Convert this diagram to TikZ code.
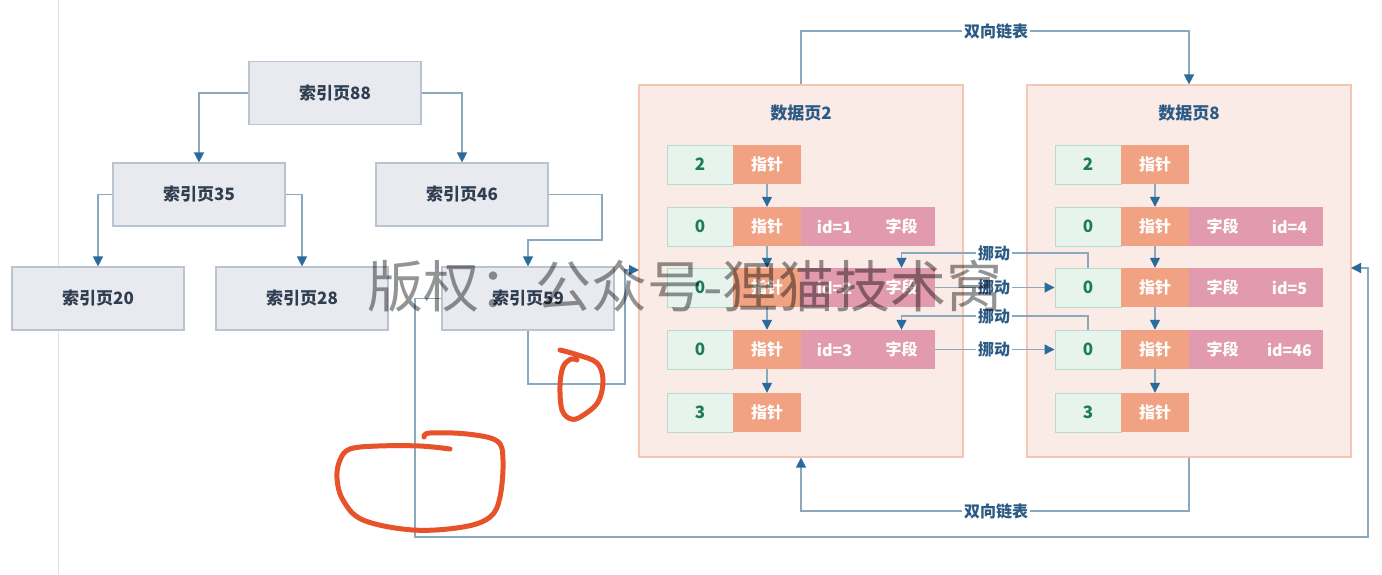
\documentclass[tikz,border=0pt]{standalone}
\usepackage{fontspec}
\setmainfont{Noto Sans CJK SC}
\usetikzlibrary{arrows.meta,calc}
\definecolor{idxfill}{HTML}{E8EAEF}
\definecolor{idxdraw}{HTML}{BAC4D1}
\definecolor{idxtext}{HTML}{2F3E50}
\definecolor{pagefill}{HTML}{FBEBE6}
\definecolor{pagedraw}{HTML}{F4C6B3}
\definecolor{titleblue}{HTML}{2B5A85}
\definecolor{gfill}{HTML}{E7F4EE}
\definecolor{gdraw}{HTML}{B3DCCB}
\definecolor{gtext}{HTML}{1D7A5A}
\definecolor{ofill}{HTML}{F1A282}
\definecolor{pfill}{HTML}{E29AAF}
\definecolor{linec}{HTML}{8AA9BF}
\definecolor{arrowc}{HTML}{2A6B9C}
\definecolor{redpen}{HTML}{E8522A}
\definecolor{marginc}{HTML}{E2E2E2}
\begin{document}
\begin{tikzpicture}[x=1pt,y=-1pt,
 idx/.style={draw=idxdraw, fill=idxfill, line width=1.2pt, minimum width=172pt, minimum height=63pt, inner sep=0pt, text=idxtext, font=\bfseries\fontsize{17}{17}\selectfont},
 page/.style={draw=pagedraw, fill=pagefill, line width=1.2pt, minimum width=324pt, minimum height=372pt, inner sep=0pt},
 ptitle/.style={text=titleblue, font=\bfseries\fontsize{17}{17}\selectfont, inner sep=0pt},
 gcell/.style={draw=gdraw, fill=gfill, line width=1pt, minimum width=66pt, minimum height=39pt, inner sep=0pt, text=gtext, font=\bfseries\fontsize{17}{17}\selectfont},
 ocell/.style={fill=ofill, minimum width=68pt, minimum height=39pt, inner sep=0pt, text=white, font=\bfseries\fontsize{16}{16}\selectfont},
 pcell/.style={fill=pfill, minimum width=67pt, minimum height=39pt, inner sep=0pt, text=white, font=\bfseries\fontsize{16}{16}\selectfont},
 lab/.style={text=titleblue, font=\bfseries\fontsize{16}{16}\selectfont, inner sep=1.5pt},
 link/.style={draw=linec, line width=1.4pt},
 arr/.style={link, -{Triangle[length=10pt,width=10pt,color=arrowc]}},
 pen/.style={draw=redpen, line width=5pt, line cap=round, line join=round},
]
\useasboundingbox (0,0) rectangle (1382,574);
\fill[white] (0,0) rectangle (1382,574);
\draw[marginc, line width=1pt] (58,0) -- (58,574);

% index pages
\node[idx] (i88) at (335,93) {索引页88};
\node[idx] (i35) at (199,194.5) {索引页35};
\node[idx] (i46) at (462,194.5) {索引页46};
\node[idx] (i20) at (98,298.5) {索引页20};
\node[idx] (i28) at (302,298.5) {索引页28};
\node[idx] (i59) at (528,298.5) {索引页59};

% data pages
\node[page] (p2) at (801,271) {};
\node[page] (p8) at (1189,271) {};
\node[ptitle] (p2t) at (801,113) {数据页2};
\node[ptitle] (p8t) at (1189,113) {数据页8};

% rows of page 2
\node[gcell] (a1n) at (700,164.5) {2};
\node[ocell] (a1p) at (767,164.5) {指针};
\node[gcell] (a2n) at (700,226.5) {0};
\node[ocell] (a2p) at (767,226.5) {指针};
\node[pcell] (a2i) at (834.5,226.5) {id=1};
\node[pcell] (a2f) at (901.5,226.5) {字段};
\node[gcell] (a3n) at (700,287.5) {0};
\node[ocell] (a3p) at (767,287.5) {指针};
\node[pcell] (a3i) at (834.5,287.5) {id=2};
\node[pcell] (a3f) at (901.5,287.5) {字段};
\node[gcell] (a4n) at (700,349.5) {0};
\node[ocell] (a4p) at (767,349.5) {指针};
\node[pcell] (a4i) at (834.5,349.5) {id=3};
\node[pcell] (a4f) at (901.5,349.5) {字段};
\node[gcell] (a5n) at (700,412.5) {3};
\node[ocell] (a5p) at (767,412.5) {指针};

% rows of page 8
\node[gcell] (b1n) at (1088,164.5) {2};
\node[ocell] (b1p) at (1155,164.5) {指针};
\node[gcell] (b2n) at (1088,226.5) {0};
\node[ocell] (b2p) at (1155,226.5) {指针};
\node[pcell] (b2f) at (1222.5,226.5) {字段};
\node[pcell] (b2i) at (1289.5,226.5) {id=4};
\node[gcell] (b3n) at (1088,287.5) {0};
\node[ocell] (b3p) at (1155,287.5) {指针};
\node[pcell] (b3f) at (1222.5,287.5) {字段};
\node[pcell] (b3i) at (1289.5,287.5) {id=5};
\node[gcell] (b4n) at (1088,349.5) {0};
\node[ocell] (b4p) at (1155,349.5) {指针};
\node[pcell] (b4f) at (1222.5,349.5) {字段};
\node[pcell] (b4i) at (1289.5,349.5) {id=46};
\node[gcell] (b5n) at (1088,412.5) {3};
\node[ocell] (b5p) at (1155,412.5) {指针};

% row pointers
\draw[arr] (a1p) -- (a2p);
\draw[arr] (a2p) -- (a3p);
\draw[arr] (a3p) -- (a4p);
\draw[arr] (a4p) -- (a5p);
\draw[arr] (b1p) -- (b2p);
\draw[arr] (b2p) -- (b3p);
\draw[arr] (b3p) -- (b4p);
\draw[arr] (b4p) -- (b5p);

% tree connectors
\draw[arr] (i88.west) -| (i35.north);
\draw[arr] (i88.east) -| (i46.north);
\draw[arr] (i35.west) -| (i20.north);
\draw[arr] (i35.east) -| (i28.north);
\coordinate (c1) at (602,240);
\draw[arr] (i46.east) -| (c1) -| (i59.north);
\coordinate (c2) at (625,384);
\coordinate (p2in) at (639,270);
\draw[arr] (i59.south) |- (c2) |- (p2in);
\coordinate (c3) at (415,537);
\coordinate (c4) at (1368,268);
\coordinate (p8in) at (1351,268);
\draw[arr] (i59.west) -| (c3) -| (c4) -- (p8in);

% doubly linked list
\node[lab] (dl1) at (996,31) {双向链表};
\node[lab] (dl2) at (996,511) {双向链表};
\draw[link] (p2.north) |- (dl1);
\draw[arr] (dl1) -| (p8.north);
\draw[link] (p8.south) |- (dl2);
\draw[arr] (dl2) -| (p2.south);

% moves
\node[lab, fill=white] (mv1) at (994,253) {挪动};
\node[lab, fill=white] (mv2) at (994,287.5) {挪动};
\node[lab, fill=white] (mv3) at (994,316) {挪动};
\node[lab, fill=white] (mv4) at (994,349.5) {挪动};
\draw[link] (b3n.north) |- (mv1);
\draw[arr] (mv1) -| (a3f.north);
\draw[link] (a3f) -- (mv2);
\draw[arr] (mv2) -- (b3n);
\draw[link] (b4n.north) |- (mv3);
\draw[arr] (mv3) -| (a4f.north);
\draw[link] (a4f) -- (mv4);
\draw[arr] (mv4) -- (b4n);

% watermark
\node[text=black, text opacity=0.42, font=\fontsize{56}{56}\selectfont, inner sep=0pt] (wm) at (685,286) {版权：公众号-狸猫技术窝};

% red pen marks
\draw[pen] plot[smooth, tension=0.6] coordinates {(560,350) (578,355) (597,363) (603,380) (598,402) (582,416) (571,419) (562,410) (560,386) (563,367) (571,359) (577,360)};
\draw[pen] plot[smooth, tension=0.6] coordinates {(450,449) (420,446) (378,446) (350,449) (340,460) (337,478) (343,500) (363,520) (413,530) (463,527) (490,517) (500,497) (503,460) (497,441) (467,434) (430,433) (424,437)};
\end{tikzpicture}
\end{document}
